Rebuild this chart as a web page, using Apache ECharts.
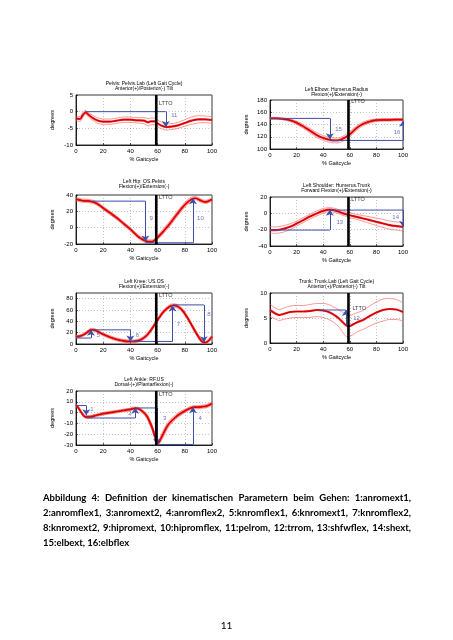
<!DOCTYPE html>
<html><head><meta charset="utf-8">
<script src="https://cdn.jsdelivr.net/npm/echarts@6/dist/echarts.min.js"></script>
<style>
html,body{margin:0;padding:0;background:#fff;}
#chart{position:absolute;left:0;top:0;width:453px;height:640px;}
.cap{position:absolute;left:43px;width:368px;font-family:Lato,'Open Sans',sans-serif;font-weight:bold;font-size:9.5px;white-space:nowrap;text-align:justify;text-align-last:justify;color:#000;line-height:15px;}
.cap.last{text-align:left;text-align-last:left;}
#page{position:absolute;left:0;width:453px;top:619px;text-align:center;font-family:Lato,'Open Sans',sans-serif;font-size:10px;color:#000;}
</style></head><body>
<div id="chart"></div>
<div class="cap" style="top:490px">Abbildung 4: Definition der kinematischen Parametern beim Gehen: 1:anromext1,</div>
<div class="cap" style="top:505px">2:anromflex1, 3:anromext2, 4:anromflex2, 5:knromflex1, 6:knromext1, 7:knromflex2,</div>
<div class="cap" style="top:520px">8:knromext2, 9:hipromext, 10:hipromflex, 11:pelrom, 12:trrom, 13:shfwflex, 14:shext,</div>
<div class="cap last" style="top:535px">15:elbext, 16:elbflex</div>
<div id="page">11</div>
<script>
// ---------- data ----------
const xTickStep = 20;
const lttoX = 59;

const pelvisX    = [0,3,5,7,10,15,20,25,30,35,40,45,50,53,55,58,60,63,66,70,75,80,85,90,95,100];
const pelvisMean = [-2,-2.2,-1,-0.2,-1.2,-2.5,-3,-3,-2.7,-2.4,-2.4,-2.6,-2.7,-3.2,-2.9,-2.9,-3.5,-4.2,-4.6,-4.5,-4.1,-3.4,-2.7,-2.3,-2.3,-2.5];
const pelvisSd   = [0.7,0.7,0.7,0.6,0.7,0.8,0.8,0.8,0.8,0.8,0.8,0.8,0.9,1.1,1.0,1.0,1.0,1.0,0.9,0.9,0.9,1.0,1.1,1.1,1.0,1.0];
const pelvisArrows = [[[7,0],[66,0],[66,-4.6]]];
const pelvisLabels = [[70,-1,'11']];

const elbowX    = [0,5,10,15,20,25,30,35,40,45,48,51,55,60,65,70,75,80,85,90,95,100];
const elbowMean = [150,150,149,147,143,137,130,123,118,115,114,114,117,124,134,141,145,147,147.5,147.5,148,148];
const elbowSd   = [1,1,1.5,2,2.5,3,3.5,4,4,4,4,4,4,4,3.5,3,2.5,2,2,2,2,2];
const elbowArrows = [[[0,150],[45,150],[45,116]],[[45,114],[100,114],[100,146]]];
const elbowLabels = [[49,132,'15'],[93,128,'16']];

const hipX    = [0,5,10,15,20,25,30,35,40,45,50,53,56,60,65,70,75,80,85,88,92,95,100];
const hipMean = [35,33,32.5,30,24,18,12,5,-2,-10,-15.5,-17,-17,-12,-3,7,18,28,35,36,33,31.5,34.5];
const hipSd   = [2,2,2,2,2,2,2,2,2,2,2,2,2,2.5,3,3,3,3,2.5,2,2,2,2];
const hipArrows = [[[12,32.5],[51,32.5],[51,-17]],[[51,-18.5],[86,-18.5],[86,36]]];
const hipLabels = [[54,12,'9'],[89,12,'10']];

const shoulderX    = [0,5,10,15,20,25,30,35,40,45,50,55,60,65,70,75,80,85,90,95,100];
const shoulderMean = [-20.5,-20.5,-19,-16.5,-12.5,-8.3,-4,-0.2,3,4.5,3,0,-2.3,-4.3,-6.3,-8.3,-10.4,-12.4,-14.4,-15.6,-16.5];
const shoulderSd   = [4,4,4,3.5,3,3,3,3,3,2.5,2.5,2.5,3,3,3.5,4,4.5,5,5,5,5];
const shoulderArrows = [[[0,-20.5],[45,-20.5],[45,4.5]],[[46,4],[100,4],[100,-16.5]]];
const shoulderLabels = [[50,-11,'13'],[92,-5.5,'14']];

const kneeX    = [0,3,6,9,11,13,16,20,25,30,35,40,45,48,52,55,58,61,64,67,70,72,75,78,81,84,87,90,92,94,96,100];
const kneeMean = [13,14,17,22,25,25,22,17,12,8,5.5,4.5,5.5,8,15,24,35,46,56,63,67.5,68,66,60,50,38,25,13,6,2.5,3,13];
const kneeSd   = [2,2,2.5,2.5,2.5,2.5,2.5,2.5,2.5,2.5,2.5,2.5,2.5,3,3,3,3,3,3,3,3,3,3,3,3,3,3,3,3,2.5,2.5,3];
const kneeArrows = [[[0,10.5],[11,10.5],[11,25]],[[11,25],[40,25],[40,4.5]],[[40,4.5],[71,4.5],[71,68]],[[71,69],[94,69],[94,3]]];
const kneeLabels = [[15,14.5,'5'],[44,16,'6'],[74,35,'7'],[96.5,52,'8']];

const trunkX    = [0,4,7,10,15,20,25,30,35,40,45,50,53,56,58,60,63,66,70,75,80,85,90,95,100];
const trunkMean = [6.6,5.9,5.6,5.8,6.2,6.3,6.3,6.4,6.6,6.5,6.1,5.3,4.6,3.8,3.4,3.4,3.8,4.2,4.6,5.4,6.1,6.6,6.8,6.7,6.2];
const trunkSd   = [1.2,1.1,1.1,1.1,1.2,1.2,1.2,1.3,1.3,1.4,1.5,1.6,1.8,2.1,2.2,2.1,2.0,1.9,1.9,2.0,2.1,2.2,2.1,2.0,1.8];
const trunkArrows = [[[57,3.4],[57,6.6]]];
const trunkPlain  = [[[37,6.6],[57,6.6]]];
const trunkLabels = [[62.5,4.9,'12']];

const ankleX    = [0,2,4,7,10,15,20,25,30,35,40,43,46,49,52,54,56,58,59,60,61,62,64,66,68,70,73,76,80,84,87,90,93,96,100];
const ankleMean = [7,4,0,-4,-4,-2.5,-1,0,1,2,3,4,3.5,1,-3,-8,-14,-22,-26,-28,-27.5,-25,-20,-15,-11,-8,-4.5,-1.5,1.5,4,5,5,5.5,6,8.5];
const ankleSd   = [1.2,1.2,1.2,1.2,1.2,1.2,1.2,1.2,1.2,1.2,1.2,1.2,1.3,1.5,2,2.5,2.5,2.5,2.5,2,2,2.5,3,3,2.5,2.5,2,2,1.5,1.5,1.5,1.5,1.5,1.5,1.5];
const ankleArrows = [[[0,6.5],[7.5,6.5],[7.5,-2.5]],[[7.5,-5],[43.5,-5],[43.5,4.5]],[[43.5,4.3],[59.5,4.3],[59.5,-29.5]],[[60,-29.5],[86,-29.5],[86,5]]];
const ankleLabels = [[10.5,3,'1'],[38.5,-1,'2'],[64,-5,'3'],[90,-5,'4']];

const titles = [
  'Pelvis: Pelvis.Lab (Left Gait Cycle)\nAnterior(+)/Posterior(-) Tilt',
  'Left Elbow: Humerus.Radius\nFlexion(+)/Extension(-)',
  'Left Hip: OS.Pelvis\nFlexion(+)/Extension(-)',
  'Left Shoulder: Humerus.Trunk\nForward Flexion(+)/Extension(-)',
  'Left Knee: US.OS\nFlexion(+)/Extension(-)',
  'Trunk: Trunk.Lab (Left Gait Cycle)\nAnterior(+)/Posterior(-) Tilt',
  'Left Ankle: RF.US\nDorsal-(+)/Plantarflexion(-)'
];
const yMins  = [-10, 100, -20, -40, 0, 0, -30];
const yMaxs  = [5, 180, 40, 20, 90, 10, 20];
const ySteps = [5, 20, 20, 20, 20, 5, 10];
const lttoLabelPos = [[61,2.5],[61,177],[61,37],[61,17],[61,86],[62,7],[61,17]];

// ---------- layout ----------
const boxes = [
  {l:76, t:95, w:136, h:50, tt:81.5},
  {l:270,t:100,w:133, h:49, tt:87},
  {l:76, t:195,w:136, h:49, tt:179.5},
  {l:270,t:197,w:133, h:49, tt:183.5},
  {l:76, t:293,w:136, h:51, tt:279.5},
  {l:270,t:293,w:133, h:50, tt:279},
  {l:76, t:391,w:136, h:54, tt:377.5}
];
const curves = [
  [pelvisX,pelvisMean,pelvisSd,pelvisArrows,pelvisLabels,[]],
  [elbowX,elbowMean,elbowSd,elbowArrows,elbowLabels,[]],
  [hipX,hipMean,hipSd,hipArrows,hipLabels,[]],
  [shoulderX,shoulderMean,shoulderSd,shoulderArrows,shoulderLabels,[]],
  [kneeX,kneeMean,kneeSd,kneeArrows,kneeLabels,[]],
  [trunkX,trunkMean,trunkSd,trunkArrows,trunkLabels,trunkPlain],
  [ankleX,ankleMean,ankleSd,ankleArrows,ankleLabels,[]]
];

const FF = "'Liberation Sans', Arial, sans-serif";
const BLUE = '#3d4fa6';
const grids=[], xAxes=[], yAxes=[], series=[], graphics=[];

boxes.forEach((b,i)=>{
  grids.push({left:b.l, top:b.t, width:b.w, height:b.h, show:true, borderColor:'#000', borderWidth:0.8, backgroundColor:'#fff'});
  xAxes.push({type:'value', gridIndex:i, min:0, max:100, interval:xTickStep,
    axisLine:{show:true,onZero:false,lineStyle:{color:'#000',width:0.8}},
    axisTick:{show:true,inside:true,length:2,lineStyle:{color:'#000',width:0.6}},
    axisLabel:{fontSize:6,color:'#000',margin:3,fontFamily:FF},
    splitLine:{show:true,lineStyle:{color:'#9a9a9a',type:[1,2],width:0.6}},
    name:'% Gaitcycle', nameLocation:'middle', nameGap:11,
    nameTextStyle:{fontSize:5.5,color:'#000',fontFamily:FF}});
  yAxes.push({type:'value', gridIndex:i, min:yMins[i], max:yMaxs[i], interval:ySteps[i],
    axisLine:{show:true,onZero:false,lineStyle:{color:'#000',width:0.8}},
    axisTick:{show:true,inside:true,length:2,lineStyle:{color:'#000',width:0.6}},
    axisLabel:{fontSize:6,color:'#000',margin:3,fontFamily:FF,showMaxLabel:(i!==4)},
    splitLine:{show:true,lineStyle:{color:'#9a9a9a',type:[1,2],width:0.6}},
    name:'degrees', nameLocation:'middle', nameRotate:90, nameGap:21,
    nameTextStyle:{fontSize:5.5,color:'#000',fontFamily:FF}});
  graphics.push({type:'text', x:b.l+b.w/2, y:b.tt, silent:true,
    style:{text:titles[i], textAlign:'center', textVerticalAlign:'top', fontSize:5, lineHeight:5, fontFamily:FF, fill:'#000'}});

  const [xs,mean,sd,arrows,labels,plain] = curves[i];
  const up = xs.map((x,k)=>[x, mean[k]+sd[k]]);
  const lo = xs.map((x,k)=>[x, mean[k]-sd[k]]);
  const mn = xs.map((x,k)=>[x, mean[k]]);
  const base = {type:'line', xAxisIndex:i, yAxisIndex:i, smooth:0.3, showSymbol:false, symbol:'none', silent:true};
  series.push(Object.assign({}, base, {data:up, lineStyle:{color:'#ff6a6a', width:0.7}, z:2}));
  series.push(Object.assign({}, base, {data:lo, lineStyle:{color:'#ff6a6a', width:0.7}, z:2}));
  series.push(Object.assign({}, base, {data:mn, lineStyle:{color:'#ff1c1c', width:2.2}, z:3}));
  series.push(Object.assign({}, base, {data:mn, lineStyle:{color:'#a30000', width:0.8}, z:4}));
  series.push({type:'line', xAxisIndex:i, yAxisIndex:i, showSymbol:false, symbol:'none', silent:true,
    data:[[lttoX,yMins[i]],[lttoX,yMaxs[i]]], lineStyle:{color:'#000', width:2.6}, z:6});
  // blue annotation: leading segments plain, final segment with arrow head
  const plainSegs = plain.concat(arrows.filter(c=>c.length>2).map(c=>c.slice(0,c.length-1)));
  const headSegs = arrows.map(c=>c.slice(c.length-2));
  if (plainSegs.length) series.push({type:'lines', coordinateSystem:'cartesian2d', xAxisIndex:i, yAxisIndex:i, polyline:true, silent:true,
    symbol:'none', data:plainSegs.map(c=>({coords:c})), lineStyle:{color:BLUE, width:1, opacity:1, curveness:0}, z:5});
  series.push({type:'lines', coordinateSystem:'cartesian2d', xAxisIndex:i, yAxisIndex:i, silent:true,
    symbol:['none','arrow'], symbolSize:6,
    data:headSegs.map(c=>({coords:c})), lineStyle:{color:BLUE, width:1, opacity:1, curveness:0}, z:5});
  series.push({type:'scatter', xAxisIndex:i, yAxisIndex:i, symbol:'circle', symbolSize:0, silent:true, itemStyle:{color:'transparent'},
    data:labels.map(l=>({value:[l[0],l[1]], name:l[2]})),
    label:{show:true, formatter:'{b}', position:'right', distance:0, color:BLUE, fontSize:6, fontFamily:FF}, z:7});
  series.push({type:'scatter', xAxisIndex:i, yAxisIndex:i, symbol:'circle', symbolSize:0, silent:true, itemStyle:{color:'transparent'},
    data:[{value:lttoLabelPos[i], name:'LTTO'}],
    label:{show:true, formatter:'{b}', position:'right', distance:0, color:'#000', fontSize:5.5, fontFamily:FF}, z:7});
});

const chart = echarts.init(document.getElementById('chart'), null, {renderer:'canvas'});
chart.setOption({animation:false, backgroundColor:'#fff', grid:grids, xAxis:xAxes, yAxis:yAxes, series:series, graphic:graphics});
</script>
</body></html>
